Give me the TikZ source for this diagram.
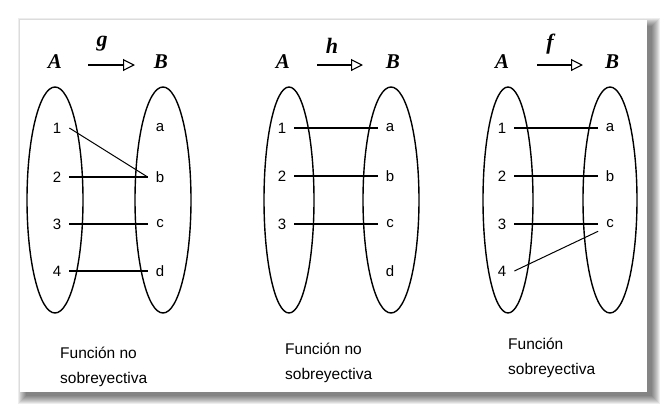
\documentclass[tikz,border=0pt]{standalone}
\usepackage{fontspec}
\setmainfont{Liberation Sans}
\newfontfamily\headfont{Liberation Serif}
\usetikzlibrary{arrows.meta,positioning}
\tikzset{>=Stealth,
  elem/.style={font=\fontsize{15}{17}\selectfont, inner xsep=8pt, inner ysep=3pt},
  setname/.style={font=\fontsize{21}{23}\headfont\bfseries\itshape},
  fname/.style={font=\fontsize{22}{24}\headfont\bfseries\itshape},
  setline/.style={line width=1.4pt},
  mapline/.style={line width=1.5pt},
  slant/.style={line width=1pt},
  maparrow/.style={line width=1.1pt,-{Triangle[open,length=12pt,width=12pt,line width=1.1pt]}},
  caption/.style={font=\fontsize{15.5}{24.5}\selectfont, align=left, anchor=north west, inner sep=0pt}
}

\begin{document}
\begin{tikzpicture}[x=1pt,y=-1pt]
  \useasboundingbox (0,0) rectangle (670,413);
  % card with soft shadow
  \foreach \s in {0,...,8}
    \fill[black,opacity=0.07] (26-\s,26-\s) rectangle (652+\s,396+\s);
  \fill[white] (20,20) rectangle (647,392);

  % --- g: not onto ---
  \node[setname] (A1) at (55,62) {A};
  \node[setname] (B1) at (161,62) {B};
  \node[fname] (g) at (102,44) {g};
  \coordinate (g-s) at (88,65);
  \coordinate (g-e) at (135,65);
  \draw[maparrow] (g-s) -- (g-e);
  \draw[setline] (55,200) ellipse [x radius=28, y radius=113];
  \draw[setline] (163,200) ellipse [x radius=28, y radius=113];
  \node[elem] (p1-1) at (57,128) {1};
  \node[elem] (p1-2) at (57,177) {2};
  \node[elem] (p1-3) at (57,224) {3};
  \node[elem] (p1-4) at (57,271) {4};
  \node[elem] (p1-a) at (160,128) {a};
  \node[elem] (p1-b) at (160,177) {b};
  \node[elem] (p1-c) at (160,224) {c};
  \node[elem] (p1-d) at (160,271) {d};
  \draw[slant] (p1-1.east) -- (p1-b.west);
  \draw[mapline] (p1-2.east) -- (p1-b.west);
  \draw[mapline] (p1-3.east) -- (p1-c.west);
  \draw[mapline] (p1-4.east) -- (p1-d.west);
  \node[caption] (t1) at (60,347) {Función no\\sobreyectiva};

  % --- h: not onto ---
  \node[setname] (A2) at (283,62) {A};
  \node[setname] (B2) at (393,62) {B};
  \node[fname] (h) at (332,46) {h};
  \coordinate (h-s) at (317,65);
  \coordinate (h-e) at (363,65);
  \draw[maparrow] (h-s) -- (h-e);
  \draw[setline] (289,200) ellipse [x radius=25, y radius=113];
  \draw[setline] (391,200) ellipse [x radius=28, y radius=113];
  \node[elem] (p2-1) at (282,128) {1};
  \node[elem] (p2-2) at (282,176) {2};
  \node[elem] (p2-3) at (282,224) {3};
  \node[elem] (p2-a) at (390,128) {a};
  \node[elem] (p2-b) at (390,176) {b};
  \node[elem] (p2-c) at (390,224) {c};
  \node[elem] (p2-d) at (390,271) {d};
  \draw[mapline] (p2-1.east) -- (p2-a.west);
  \draw[mapline] (p2-2.east) -- (p2-b.west);
  \draw[mapline] (p2-3.east) -- (p2-c.west);
  \node[caption] (t2) at (285,343) {Función no\\sobreyectiva};

  % --- f: onto ---
  \node[setname] (A3) at (502,62) {A};
  \node[setname] (B3) at (612,62) {B};
  \node[fname] (f) at (550,44) {f};
  \coordinate (f-s) at (537,65);
  \coordinate (f-e) at (583,65);
  \draw[maparrow] (f-s) -- (f-e);
  \draw[setline] (508,200) ellipse [x radius=25, y radius=113];
  \draw[setline] (610,200) ellipse [x radius=27, y radius=113];
  \node[elem] (p3-1) at (502,128) {1};
  \node[elem] (p3-2) at (502,176) {2};
  \node[elem] (p3-3) at (502,224) {3};
  \node[elem] (p3-4) at (502,271) {4};
  \node[elem] (p3-a) at (610,128) {a};
  \node[elem] (p3-b) at (610,176) {b};
  \node[elem] (p3-c) at (610,224) {c};
  \draw[mapline] (p3-1.east) -- (p3-a.west);
  \draw[mapline] (p3-2.east) -- (p3-b.west);
  \draw[mapline] (p3-3.east) -- (p3-c.west);
  \draw[slant] (p3-4.east) -- (p3-c.south west);
  \node[caption] (t3) at (508,338) {Función\\sobreyectiva};
\end{tikzpicture}
\end{document}
